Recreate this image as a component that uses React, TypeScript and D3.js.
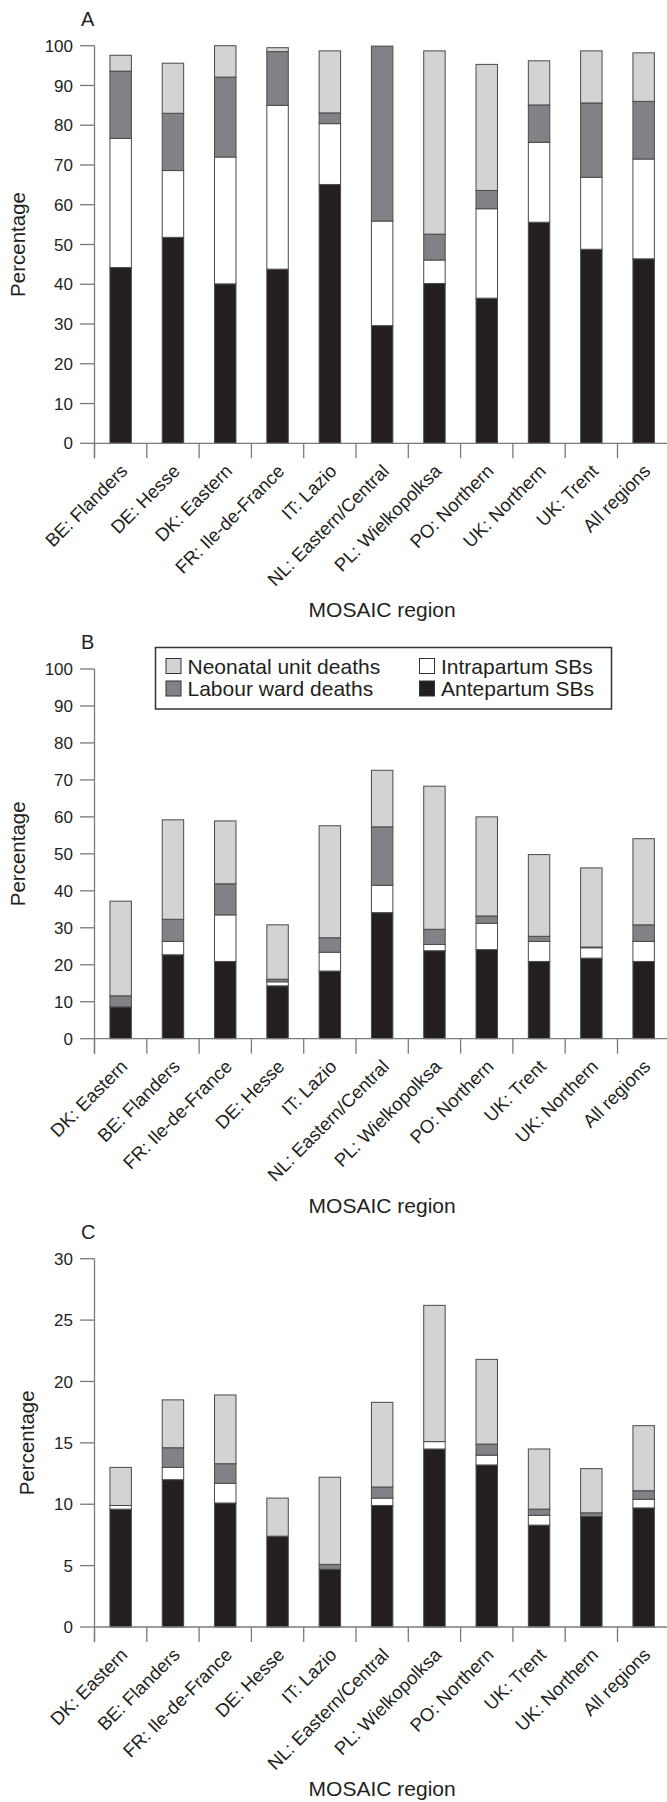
import React from 'react'
import * as d3 from 'd3'

const W = 667
const H = 1802

const regionsA = ['BE: Flanders', 'DE: Hesse', 'DK: Eastern', 'FR: Ile-de-France', 'IT: Lazio', 'NL: Eastern/Central', 'PL: Wielkopolksa', 'PO: Northern', 'UK: Northern', 'UK: Trent', 'All regions']
const regionsBC = ['DK: Eastern', 'BE: Flanders', 'FR: Ile-de-France', 'DE: Hesse', 'IT: Lazio', 'NL: Eastern/Central', 'PL: Wielkopolksa', 'PO: Northern', 'UK: Trent', 'UK: Northern', 'All regions']

// series order: bottom to top
const keys = ['ante', 'intra', 'labour', 'neo']
const labels: Record<string, string> = {
  neo: 'Neonatal unit deaths',
  labour: 'Labour ward deaths',
  intra: 'Intrapartum SBs',
  ante: 'Antepartum SBs',
}
const colors: Record<string, string> = {
  ante: '#231f20',
  intra: '#ffffff',
  labour: '#808285',
  neo: '#d1d3d4',
}

// panel A
const anteA = [44.2, 51.8, 40.1, 43.8, 65.1, 29.6, 40.2, 36.5, 55.6, 48.8, 46.4]
const intraA = [32.5, 16.8, 31.9, 41.2, 15.3, 26.3, 5.9, 22.5, 20.1, 18.1, 25.1]
const labourA = [16.9, 14.4, 20.1, 13.5, 2.7, 44.0, 6.5, 4.6, 9.4, 18.7, 14.5]
const neoA = [4.0, 12.6, 7.9, 1.0, 15.6, 0, 46.1, 31.7, 11.1, 13.1, 12.2]

// panel B
const anteB = [8.6, 22.7, 20.9, 14.3, 18.3, 34.1, 23.8, 24.1, 20.9, 21.8, 20.9]
const intraB = [0, 3.6, 12.6, 1.1, 5.1, 7.4, 1.7, 7.1, 5.4, 2.8, 5.4]
const labourB = [3.0, 6.0, 8.4, 0.7, 3.9, 15.8, 4.1, 2.0, 1.4, 0.2, 4.5]
const neoB = [25.6, 26.9, 17.0, 14.7, 30.3, 15.3, 38.7, 26.8, 22.1, 21.4, 23.3]

// panel C
const anteC = [9.6, 12.0, 10.1, 7.4, 4.7, 9.9, 14.5, 13.2, 8.3, 9.0, 9.7]
const intraC = [0.3, 1.0, 1.6, 0, 0, 0.6, 0.6, 0.8, 0.8, 0, 0.7]
const labourC = [0, 1.6, 1.6, 0, 0.4, 0.9, 0, 0.9, 0.5, 0.3, 0.7]
const neoC = [3.1, 3.9, 5.6, 3.1, 7.1, 6.9, 11.1, 6.9, 4.9, 3.6, 5.3]

const ticks100 = [0, 10, 20, 30, 40, 50, 60, 70, 80, 90, 100]
const ticks30 = [0, 5, 10, 15, 20, 25, 30]

const font = '"Liberation Sans", Arial, Helvetica, sans-serif'
const axisColor = '#7a7a7a'

type PanelProps = {
  letter: string
  regions: string[]
  series: Record<string, number[]>
  yMax: number
  yTicks: number[]
  yTop: number
  yBottom: number
  titleX: number
  xTitleOffset: number
}

function Panel({ letter, regions, series, yMax, yTicks, yTop, yBottom, titleX, xTitleOffset }: PanelProps) {
  const x = d3.scaleBand<string>()
    .domain(regions)
    .range([94.5, 94.5 + 52.3 * regions.length])
    .paddingInner(0.59)
    .paddingOuter(0.295)
  const y = d3.scaleLinear().domain([0, yMax]).range([yBottom, yTop])

  const rows = regions.map((r, i) => {
    const row: Record<string, number | string> = { region: r }
    keys.forEach(k => { row[k] = series[k][i] })
    return row
  })
  const stacked = d3.stack<Record<string, number | string>>().keys(keys)(rows as any)
  const step = x.step()
  const x0 = x.range()[0]
  const boundaries = d3.range(regions.length + 1).map(i => x0 + i * step)

  return (
    <g>
      <text x={81} y={yTop - 20} fontSize={20} fontFamily={font} fill="#231f20">{letter}</text>
      {/* bars */}
      {stacked.map(layer => (
        <g key={layer.key}>
          {layer.map((d, i) => {
            const h = y(d[0]) - y(d[1])
            if (h <= 0.05) return null
            return (
              <rect key={i}
                x={x(regions[i])!}
                y={y(d[1])}
                width={x.bandwidth()}
                height={h}
                fill={colors[layer.key]}
                stroke="#4a4a4a"
                strokeWidth={1} />
            )
          })}
        </g>
      ))}
      {/* y axis */}
      <line x1={94.5} x2={94.5} y1={y(yMax)} y2={yBottom + 15} stroke={axisColor} strokeWidth={1.3} />
      {yTicks.map(t => (
        <g key={t}>
          <line x1={80} x2={94.5} y1={y(t)} y2={y(t)} stroke={axisColor} strokeWidth={1.3} />
          <text x={73} y={y(t)} dy="0.36em" textAnchor="end" fontSize={17} fontFamily={font} fill="#231f20">{t}</text>
        </g>
      ))}
      {/* x axis */}
      <line x1={94.5} x2={W} y1={yBottom} y2={yBottom} stroke={axisColor} strokeWidth={1.3} />
      {boundaries.map((b, i) => (
        <line key={i} x1={b} x2={b} y1={yBottom} y2={yBottom + 15} stroke={axisColor} strokeWidth={1.3} />
      ))}
      {regions.map(r => {
        const cx = x(r)! + x.bandwidth() / 2
        return (
          <text key={r}
            transform={`translate(${cx + 8},${yBottom + 29}) rotate(-45)`}
            textAnchor="end" fontSize={18.5} fontFamily={font} fill="#231f20">{r}</text>
        )
      })}
      <text x={(x0 + boundaries[boundaries.length - 1]) / 2} y={yBottom + xTitleOffset} textAnchor="middle" fontSize={21} fontFamily={font} fill="#231f20">MOSAIC region</text>
      <text transform={`translate(${titleX},${(yTop + yBottom) / 2}) rotate(-90)`} textAnchor="middle" fontSize={20.5} fontFamily={font} fill="#231f20">Percentage</text>
    </g>
  )
}

function Legend() {
  const items = [
    { key: 'neo', x: 166, y: 658.5 },
    { key: 'labour', x: 166, y: 681 },
    { key: 'intra', x: 419.5, y: 658.5 },
    { key: 'ante', x: 419.5, y: 681 },
  ]
  return (
    <g>
      <rect x={155.5} y={647.5} width={456} height={61.5} fill="#fff" stroke="#333" strokeWidth={1.5} />
      {items.map(it => (
        <g key={it.key}>
          <rect x={it.x} y={it.y} width={15} height={15} fill={colors[it.key]} stroke="#333" strokeWidth={1} />
          <text x={it.x + 21.5} y={it.y + 15} fontSize={21} fontFamily={font} fill="#231f20">{labels[it.key]}</text>
        </g>
      ))}
    </g>
  )
}

export default function App() {
  const seriesA = { ante: anteA, intra: intraA, labour: labourA, neo: neoA }
  const seriesB = { ante: anteB, intra: intraB, labour: labourB, neo: neoB }
  const seriesC = { ante: anteC, intra: intraC, labour: labourC, neo: neoC }
  return (
    <svg width={W} height={H} style={{ position: 'absolute', left: 0, top: 0, background: '#fff' }}>
      <rect width={W} height={H} fill="#fff" />
      <Panel letter="A" regions={regionsA} series={seriesA} yMax={100} yTicks={ticks100} yTop={45.7} yBottom={443.3} titleX={25} xTitleOffset={174} />
      <Panel letter="B" regions={regionsBC} series={seriesB} yMax={100} yTicks={ticks100} yTop={669} yBottom={1038.7} titleX={25} xTitleOffset={174} />
      <Legend />
      <Panel letter="C" regions={regionsBC} series={seriesC} yMax={30} yTicks={ticks30} yTop={1258.7} yBottom={1627} titleX={34} xTitleOffset={169} />
    </svg>
  )
}
